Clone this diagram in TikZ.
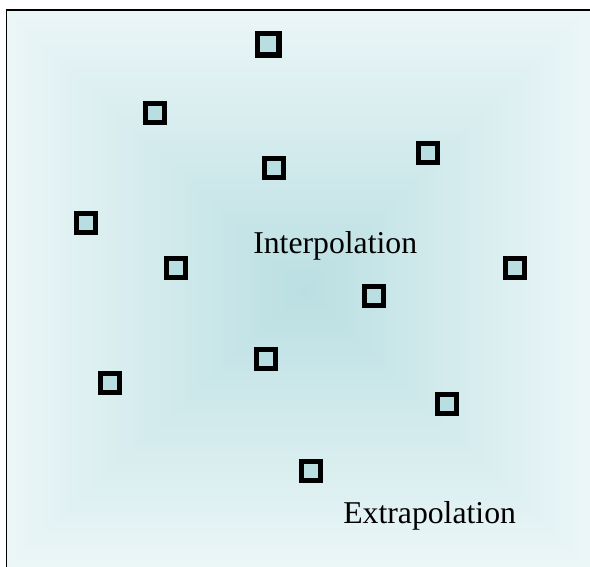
\documentclass[tikz,border=0pt]{standalone}
\usepackage{fontspec}
\setmainfont{Liberation Serif}
\definecolor{glowcore}{HTML}{BADFE2}
\definecolor{glowrim}{HTML}{EBF6F7}
\definecolor{markfill}{HTML}{B9DEE1}
\begin{document}
\begin{tikzpicture}[x=0.75pt,y=-0.75pt,
  sample/.style={shape=rectangle, draw=black, fill=markfill, line width=3.75pt,
    minimum size=14.25pt, inner sep=0pt},
  bigsample/.style={sample, line width=4.1pt, minimum size=16.2pt},
  caption/.style={anchor=base west, inner sep=0pt,
    font=\fontsize{23.8pt}{28pt}\selectfont}]
\useasboundingbox (0,0) rectangle (590,567);
\fill[white] (0,0) rectangle (590,567);
% rectangular glow: nested boxes from the light rim in to the teal core
\foreach \i in {0,...,99}{
  \pgfmathsetmacro\t{1-\i/100}
  \pgfmathsetmacro\pct{100*\t}
  \fill[glowrim!\pct!glowcore] ({306-300*\t},{290-280*\t}) rectangle ({306+284*\t},{290+277*\t});
}
% frame edges
\draw[line width=1.1pt] (6.5,567) -- (6.5,9.8) -- (590,9.8);
% sample points
\node[bigsample] (p1) at (268.2,44.4) {};
\node[sample] (p2) at (155.4,113.3) {};
\node[sample] (p3) at (274.1,168.4) {};
\node[sample] (p4) at (428.4,153.3) {};
\node[sample] (p5) at (85.9,222.8) {};
\node[sample] (p6) at (175.9,268.3) {};
\node[sample] (p7) at (514.6,268.3) {};
\node[sample] (p8) at (373.8,296.2) {};
\node[sample] (p9) at (266.4,358.5) {};
\node[sample] (p10) at (109.6,383) {};
\node[sample] (p11) at (447,403.6) {};
\node[sample] (p12) at (311.4,471.1) {};
% labels
\node[caption] (inter) at (253,253.5) {Interpolation};
\node[caption] (extra) at (343,523.4) {Extrapolation};
\end{tikzpicture}
\end{document}
